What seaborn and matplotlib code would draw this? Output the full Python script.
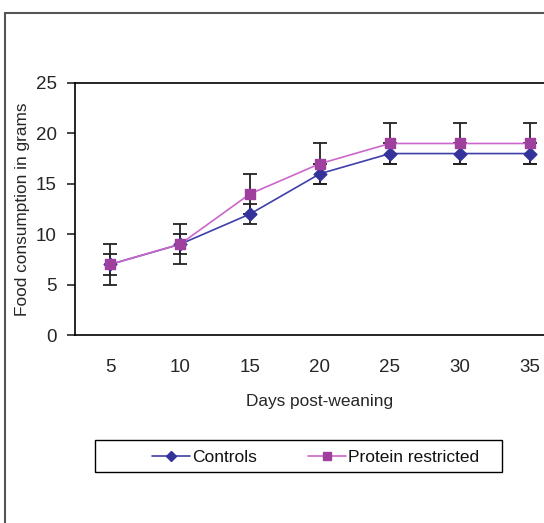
import matplotlib
matplotlib.use("Agg")
import matplotlib.pyplot as plt
from matplotlib.patches import Rectangle
from matplotlib.lines import Line2D
import seaborn as sns
import pandas as pd

# values
days = [5, 10, 15, 20, 25, 30, 35]
controls = [7, 9, 12, 16, 18, 18, 18]
controls_err = [1, 1, 1, 1, 1, 1, 1]
restricted = [7, 9, 14, 17, 19, 19, 19]
restricted_err = [2, 2, 2, 2, 2, 2, 2]
groups = ["Controls", "Protein restricted"]

line_colors = {"Controls": "#3F3FAA", "Protein restricted": "#CC66CC"}
marker_colors = {"Controls": "#333399", "Protein restricted": "#A0409E"}

df = pd.DataFrame({
    "day": days * 2,
    "food": controls + restricted,
    "group": [groups[0]] * len(days) + [groups[1]] * len(days),
})

sns.set_style("white")
plt.rcParams["font.family"] = ["Liberation Sans", "DejaVu Sans"]
plt.rcParams["text.color"] = "#111111"

fig = plt.figure(figsize=(5.44, 5.23), dpi=100)
ax = fig.add_axes([75 / 544, 1 - 335 / 523, 490 / 544, 252 / 523])

# error bars first so markers sit on top
ax.errorbar(days, restricted, yerr=restricted_err, fmt="none", ecolor="#222222",
            elinewidth=1.3, capsize=5, capthick=1.3, zorder=2)
ax.errorbar(days, controls, yerr=controls_err, fmt="none", ecolor="#222222",
            elinewidth=1.3, capsize=5, capthick=1.3, zorder=2)

sns.lineplot(data=df, x="day", y="food", hue="group", palette=line_colors,
             linewidth=1.2, legend=False, ax=ax, zorder=3)
ax.scatter(days, controls, marker="D", s=42, color=marker_colors["Controls"], zorder=4)
ax.scatter(days, restricted, marker="s", s=60, color=marker_colors["Protein restricted"], zorder=5)

ax.set_xlim(2.5, 37.5)
ax.set_ylim(0, 25)
ax.set_xticks(days)
ax.set_xticklabels([str(d) for d in days])
ax.set_xticks([7.5 + 5 * i for i in range(7)], minor=True)
ax.set_yticks([0, 5, 10, 15, 20, 25])
ax.tick_params(axis="x", which="major", length=0, pad=17, labelsize=13.5)
ax.tick_params(axis="x", which="minor", length=6, width=1.2, direction="out", color="black")
ax.tick_params(axis="y", length=6, width=1.2, direction="out", left=True, labelsize=13.5, pad=7)
for side in ["left", "bottom", "top", "right"]:
    ax.spines[side].set_color("black")
    ax.spines[side].set_linewidth(1.2)

ax.set_xlabel("Days post-weaning", fontsize=12.4, labelpad=13)
ax.set_ylabel("Food consumption in grams", fontsize=12.4, labelpad=4)

# outer chart-area border
fig.patches.append(Rectangle((5 / 544, -0.1), 1.2, 1 - 13 / 523 + 0.1, transform=fig.transFigure,
                             fill=False, edgecolor="#555555", linewidth=1.5))

# legend box
fig.patches.append(Rectangle((95 / 544, 1 - 472 / 523), 407 / 544, 32 / 523,
                             transform=fig.transFigure, fill=False, edgecolor="black", linewidth=1.0))
handles = [
    Line2D([0], [0], color=line_colors["Controls"], marker="D", markersize=5,
           markerfacecolor=marker_colors["Controls"], markeredgecolor=marker_colors["Controls"], linewidth=1.2),
    Line2D([0], [0], color=line_colors["Protein restricted"], marker="s", markersize=6,
           markerfacecolor=marker_colors["Protein restricted"],
           markeredgecolor=marker_colors["Protein restricted"], linewidth=1.2),
]
fig.legend(handles, groups, loc="center left", bbox_to_anchor=(152 / 544, 1 - 457 / 523), ncol=2,
           frameon=False, fontsize=12.5, handlelength=2.2, handletextpad=0.12, columnspacing=2.9,
           borderpad=0, borderaxespad=0)

fig.savefig("out.png", dpi=100)
